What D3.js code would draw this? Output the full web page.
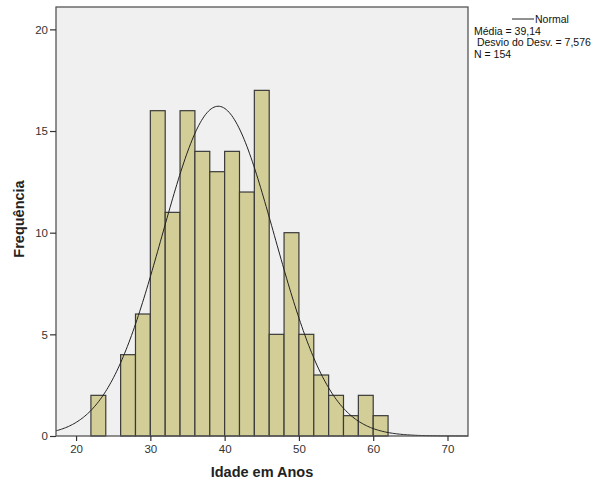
<!DOCTYPE html>
<html>
<head>
<meta charset="utf-8">
<script src="https://cdn.jsdelivr.net/npm/d3@7"></script>
<style>
body { margin: 0; background: #fff; }
svg text { font-family: "Liberation Sans", Arial, sans-serif; }
</style>
</head>
<body>
<div id="chart"></div>
<script>
// histogram data: bin start (age), frequency, bin width 2
var binStarts = [22,24,26,28,30,32,34,36,38,40,42,44,46,48,50,52,54,56,58,60];
var counts    = [ 2, 0, 4, 6,16,11,16,14,13,14,12,17, 5,10, 5, 3, 2, 1, 2, 1];
var binWidth = 2;
var xTicks = [20,30,40,50,60,70];
var yTicks = [0,5,10,15,20];
var mean = 39.14, sd = 7.576, n = 154;
var legendLines = ["Média = 39,14", " Desvio do Desv. = 7,576", "N = 154"];

function init(){
    var w = 598, h = 486;
    var left = 56, top = 7, right = 468, bottom = 436;

    var svg = d3.select("#chart").append("svg")
        .attr("width", w)
        .attr("height", h);

    var x = d3.scaleLinear().domain([17.3, 72.76]).range([left, right]);
    var y = d3.scaleLinear().domain([0, 21.1]).range([bottom, top]);

    // plot background
    svg.append("rect")
        .attr("x", left).attr("y", top)
        .attr("width", right - left).attr("height", bottom - top)
        .attr("fill", "#f0f0f0");

    // bars
    svg.selectAll("rect.bar")
        .data(binStarts.map(function(b, i){ return {b: b, c: counts[i]}; }).filter(function(d){ return d.c > 0; }))
        .enter()
        .append("rect")
        .attr("class", "bar")
        .attr("x", function(d){ return x(d.b); })
        .attr("y", function(d){ return y(d.c); })
        .attr("width", function(d){ return x(d.b + binWidth) - x(d.b); })
        .attr("height", function(d){ return y(0) - y(d.c); })
        .attr("fill", "#d3ce97")
        .attr("stroke", "#3a3a3a")
        .attr("stroke-width", 1.2);

    // normal curve
    var pts = [];
    var dom = x.domain();
    for (var i = 0; i <= 300; i++) {
        var xv = dom[0] + (dom[1] - dom[0]) * i / 300;
        var z = (xv - mean) / sd;
        pts.push([xv, n * binWidth * Math.exp(-0.5 * z * z) / (sd * Math.sqrt(2 * Math.PI))]);
    }
    svg.append("path")
        .datum(pts)
        .attr("d", d3.line().x(function(d){ return x(d[0]); }).y(function(d){ return y(d[1]); }))
        .attr("fill", "none")
        .attr("stroke", "#222")
        .attr("stroke-width", 1);

    // frame
    svg.append("rect")
        .attr("x", left).attr("y", top)
        .attr("width", right - left).attr("height", bottom - top)
        .attr("fill", "none")
        .attr("stroke", "#555")
        .attr("stroke-width", 1.3);

    // axes
    var xAxis = svg.append("g")
        .attr("transform", "translate(0," + bottom + ")")
        .call(d3.axisBottom(x).tickValues(xTicks).tickSize(5).tickPadding(4));
    var yAxis = svg.append("g")
        .attr("transform", "translate(" + left + ",0)")
        .call(d3.axisLeft(y).tickValues(yTicks).tickSize(6).tickPadding(2));
    [xAxis, yAxis].forEach(function(a){
        a.select(".domain").remove();
        a.selectAll("line").attr("stroke", "#333").attr("stroke-width", 1.2);
        a.selectAll("text").attr("fill", "#333").style("font-size", "11.5px")
            .style("font-family", "'Liberation Sans', Arial, sans-serif");
    });

    // titles
    svg.append("text")
        .attr("x", 262).attr("y", 477)
        .attr("text-anchor", "middle")
        .style("font-size", "14.5px").style("font-weight", "bold")
        .attr("fill", "#222")
        .text("Idade em Anos");
    svg.append("text")
        .attr("transform", "translate(24,219) rotate(-90)")
        .attr("text-anchor", "middle")
        .style("font-size", "14.5px").style("font-weight", "bold")
        .attr("fill", "#222")
        .text("Frequência");

    // legend
    svg.append("line")
        .attr("x1", 512).attr("x2", 534).attr("y1", 19).attr("y2", 19)
        .attr("stroke", "#222").attr("stroke-width", 1);
    svg.append("text")
        .attr("x", 535).attr("y", 23)
        .style("font-size", "10.5px").attr("fill", "#111")
        .text("Normal");
    svg.selectAll("text.leg")
        .data(legendLines)
        .enter()
        .append("text")
        .attr("class", "leg")
        .attr("x", 474)
        .attr("y", function(d, i){ return 35 + i * 11.3; })
        .attr("xml:space", "preserve")
        .style("white-space", "pre")
        .style("font-size", "10.5px").attr("fill", "#111")
        .text(function(d){ return d; });
}
window.onload = init;
</script>
</body>
</html>
